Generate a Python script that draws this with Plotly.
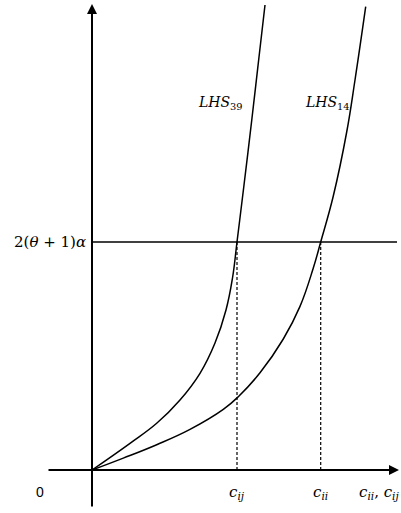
import plotly.graph_objects as go

# Curve samples (x, y in arbitrary units, origin at 0,0)
lhs39_x = [0, 38, 64.7, 88, 108, 123, 134, 140.5, 145, 152, 160, 167, 173]
lhs39_y = [0, 26.7, 46.7, 70, 96.7, 127, 160, 192, 228, 285, 352, 413, 465]
lhs14_x = [0, 31.3, 64.7, 98, 131.3, 146.3, 168, 191.3, 208, 221.3, 228.7, 241.3, 254.7, 263, 273.7]
lhs14_y = [0, 11.9, 25.3, 40.6, 60.6, 73.3, 97.2, 131, 163.6, 202, 228, 274, 338, 390, 463.3]

threshold = 228          # 2(θ+1)α
c_ij = 145
c_ii = 228.7
x_axis_span = [-45, 307]
y_axis_span = [-38, 466]
hline_end = 305

serif = "DejaVu Serif, Liberation Serif, serif"
sans = "Liberation Sans, Open Sans, sans-serif"

fig = go.Figure()

for xs, ys in [(lhs39_x, lhs39_y), (lhs14_x, lhs14_y)]:
    fig.add_trace(go.Scatter(x=xs, y=ys, mode="lines",
                             line=dict(color="black", width=1.5, shape="spline", smoothing=1.2),
                             hoverinfo="skip", showlegend=False))

# horizontal threshold line
fig.add_shape(type="line", x0=0, x1=hline_end, y0=threshold, y1=threshold,
              line=dict(color="black", width=1.5))
# dashed verticals
for cx in [c_ij, c_ii]:
    fig.add_shape(type="line", x0=cx, x1=cx, y0=0, y1=threshold,
                  line=dict(color="black", width=1.2, dash="3px,2px"))

# axes with arrowheads
fig.add_annotation(x=x_axis_span[1], y=0, ax=x_axis_span[0], ay=0,
                   xref="x", yref="y", axref="x", ayref="y", text="",
                   showarrow=True, arrowhead=2, arrowsize=1, arrowwidth=2,
                   arrowcolor="black", standoff=0, startstandoff=0)
fig.add_annotation(x=0, y=y_axis_span[1], ax=0, ay=y_axis_span[0],
                   xref="x", yref="y", axref="x", ayref="y", text="",
                   showarrow=True, arrowhead=2, arrowsize=1, arrowwidth=2,
                   arrowcolor="black", standoff=0, startstandoff=0)

# labels
def lbl(x, y, text, font=serif, size=14, xanchor="center"):
    fig.add_annotation(x=x, y=y, text=text, showarrow=False, xref="x", yref="y",
                       xanchor=xanchor, yanchor="middle",
                       font=dict(family=font, size=size, color="black"))

lbl(128, 367, "<i>LHS</i><sub>39</sub>", size=14)
lbl(235.5, 367, "<i>LHS</i><sub>14</sub>", size=14)
lbl(-4, threshold, "2(<i>θ</i> + 1)<i>α</i>", xanchor="right", size=15)
lbl(-52, -22, "0", font=sans, size=14)
lbl(c_ij, -22, "<i>c</i><sub><i>ij</i></sub>", size=15)
lbl(c_ii, -22, "<i>c</i><sub><i>ii</i></sub>", size=15)
lbl(309, -22, "<i>c</i><sub><i>ii</i></sub>, <i>c</i><sub><i>ij</i></sub>", xanchor="right", size=15)

fig.update_layout(
    width=401, height=513,
    margin=dict(l=0, r=0, t=0, b=0),
    paper_bgcolor="white", plot_bgcolor="white",
    xaxis=dict(range=[-92, 309], visible=False, fixedrange=True),
    yaxis=dict(range=[-43, 470], visible=False, fixedrange=True),
    showlegend=False,
)

fig.write_html("out.html", config={"displayModeBar": False},
               post_script="document.body.style.margin='0';document.body.style.overflow='hidden';")
